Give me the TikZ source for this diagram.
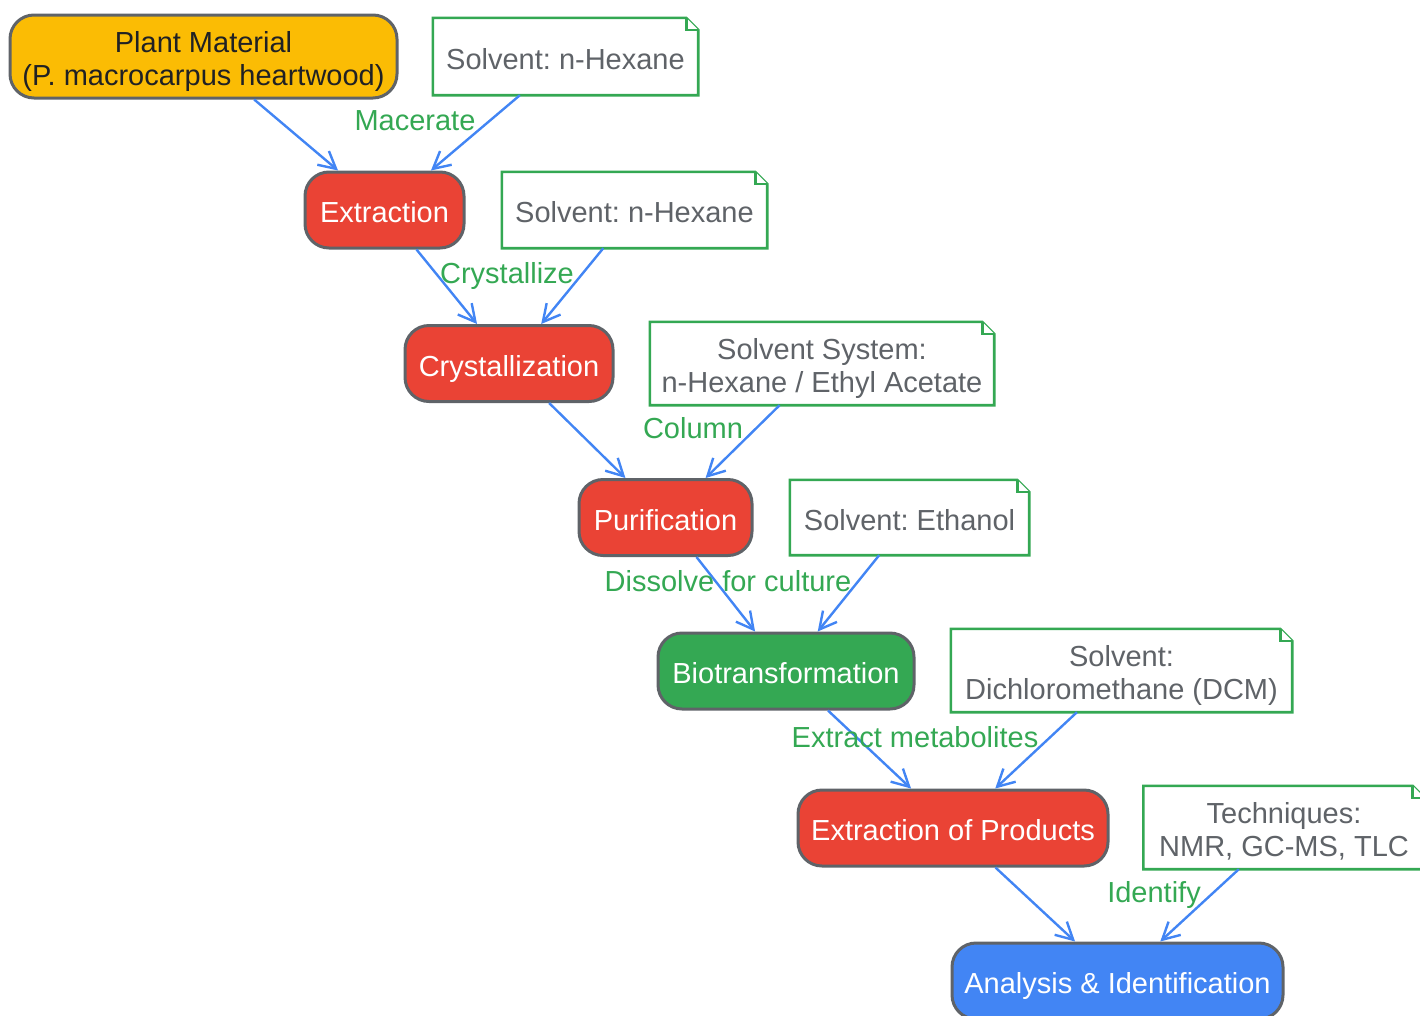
\documentclass[tikz,border=0pt]{standalone}
\usepackage{fontspec}
\setmainfont{Liberation Sans}
\usetikzlibrary{arrows.meta,positioning}
\definecolor{gred}{HTML}{EA4335}
\definecolor{ggreen}{HTML}{34A853}
\definecolor{gblue}{HTML}{4285F4}
\definecolor{gyellow}{HTML}{FBBC04}
\definecolor{ggray}{HTML}{5F6368}
\definecolor{gdark}{HTML}{202124}

\begin{document}
\frenchspacing
\begin{tikzpicture}
[x=1pt,y=-1pt,inner sep=0pt,
font=\fontsize{29}{33}\selectfont,
one line/.style={text height=29pt,text depth=4pt},
two lines/.style={text height=64pt,text depth=7pt},
step box/.style={rectangle,rounded corners=24pt,draw=ggray,line width=3pt,
  text=white,align=center,minimum height=76pt,one line},
note/.style={rectangle,fill=white,text=ggray,align=center,one line},
fold/.style={draw=ggreen,line width=2.6pt,line join=miter},
label/.style={text=ggreen,one line},
link/.style={draw=gblue,line width=2.4pt,arrows={-Straight Barb[length=17pt,width=18pt]}}]
\useasboundingbox (0,0) rectangle (1420,1015);
% steps
\node[step box,fill=gyellow,text=gdark,minimum width=387pt,minimum height=83pt,two lines] (plant material) at (203.5,56.5)
  {Plant Material\\(P. macrocarpus heartwood)};
\node[step box,fill=gred,minimum width=159pt] (extraction) at (384.5,210) {Extraction};
\node[step box,fill=gred,minimum width=208pt] (crystallization) at (509,363.5) {Crystallization};
\node[step box,fill=gred,minimum width=173pt] (purification) at (665.5,517.5) {Purification};
\node[step box,fill=ggreen,minimum width=256pt] (biotransformation) at (786,671) {Biotransformation};
\node[step box,fill=gred,minimum width=310pt] (extraction products) at (953,828) {Extraction of Products};
\node[step box,fill=gblue,minimum width=331pt] (analysis) at (1117.5,981) {Analysis \& Identification};
% notes
\node[note,minimum width=265pt,minimum height=77pt] (solvent 1) at (565.5,56.5) {Solvent: n-Hexane};
\node[note,minimum width=265pt,minimum height=76pt] (solvent 2) at (634.5,210) {Solvent: n-Hexane};
\node[note,minimum width=344pt,minimum height=83pt,two lines] (solvent 3) at (822,363.5) {Solvent System:\\n-Hexane / Ethyl Acetate};
\node[note,minimum width=239pt,minimum height=75pt] (solvent 4) at (909.5,517.5) {Solvent: Ethanol};
\node[note,minimum width=341pt,minimum height=83pt,two lines] (solvent 5) at (1121.5,670.5) {Solvent:\\Dichloromethane (DCM)};
\node[note,minimum width=281pt,minimum height=83pt,two lines] (techniques) at (1284,827.5) {Techniques:\\NMR, GC-MS, TLC};
\foreach \n in {solvent 1,solvent 2,solvent 3,solvent 4,solvent 5,techniques} {
  \draw[fold] (\n.south west) -- (\n.north west) -- ([xshift=-12pt]\n.north east)
    -- ([yshift=-12pt]\n.north east) -- (\n.south east) -- cycle;
  \draw[fold,fill=white] ([xshift=-12pt]\n.north east) -- ([xshift=-12pt,yshift=-12pt]\n.north east)
    -- ([yshift=-12pt]\n.north east);
}
% links
\draw[link] (plant material) -- (extraction);
\draw[link] (solvent 1) -- (extraction);
\draw[link] (extraction) -- (crystallization);
\draw[link] (solvent 2) -- (crystallization);
\draw[link] (crystallization) -- (purification);
\draw[link] (solvent 3) -- (purification);
\draw[link] (purification) -- (biotransformation);
\draw[link] (solvent 4) -- (biotransformation);
\draw[link] (biotransformation) -- (extraction products);
\draw[link] (solvent 5) -- (extraction products);
\draw[link] (extraction products) -- (analysis);
\draw[link] (techniques) -- (analysis);
% labels
\node[label] (macerate) at (415,118) {Macerate};
\node[label] (crystallize) at (507,271) {Crystallize};
\node[label] (column) at (693,426) {Column};
\node[label] (dissolve) at (728,579) {Dissolve for culture};
\node[label] (extract) at (915,735) {Extract metabolites};
\node[label] (identify) at (1154,890) {Identify};
\end{tikzpicture}
\end{document}
